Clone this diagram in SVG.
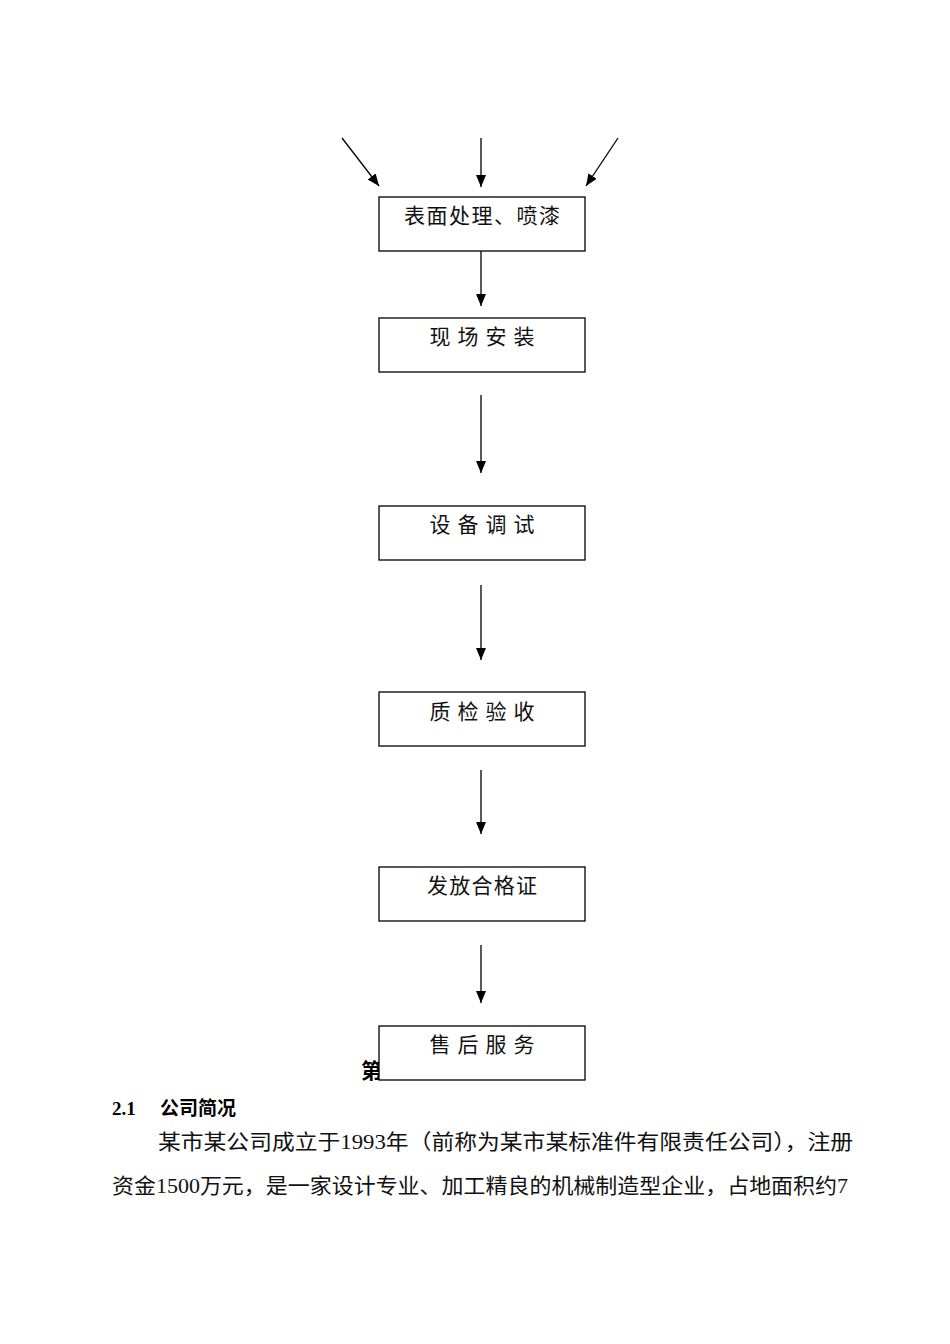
<svg xmlns="http://www.w3.org/2000/svg" width="950" height="1344" viewBox="0 0 950 1344">
<style>
.box{fill:#fff;stroke:#000;stroke-width:1.3}
.lbl{font-family:"Noto Sans CJK SC",sans-serif;font-size:21px;fill:#111;text-anchor:middle}
.ln{stroke:#000;stroke-width:1.3;fill:none}
.body{font-family:"Liberation Serif","Noto Sans CJK SC",serif;font-size:21px;fill:#111}
</style>
<defs>
<marker id="ah" viewBox="0 0 12 10" refX="12" refY="5" markerWidth="12" markerHeight="10" markerUnits="userSpaceOnUse" orient="auto">
<path d="M0,0 L12,5 L0,10 z" fill="#000"/>
</marker>
</defs>
<rect width="950" height="1344" fill="#fff"/>
<text x="361" y="1078" style="font-family:'Noto Sans CJK SC',sans-serif;font-size:21px;font-weight:bold;fill:#000">第</text>
<g id="connectors">
<line class="ln" x1="342" y1="138" x2="379" y2="186" marker-end="url(#ah)"/>
<line class="ln" x1="481" y1="138" x2="481" y2="187" marker-end="url(#ah)"/>
<line class="ln" x1="618" y1="138" x2="586" y2="186" marker-end="url(#ah)"/>
<line class="ln" x1="481" y1="251" x2="481" y2="306" marker-end="url(#ah)"/>
<line class="ln" x1="481" y1="395" x2="481" y2="473" marker-end="url(#ah)"/>
<line class="ln" x1="481" y1="585" x2="481" y2="660" marker-end="url(#ah)"/>
<line class="ln" x1="481" y1="770" x2="481" y2="834" marker-end="url(#ah)"/>
<line class="ln" x1="481" y1="945" x2="481" y2="1003" marker-end="url(#ah)"/>
</g>
<g id="n1"><rect class="box" x="379" y="197" width="206" height="54"/><text class="lbl" x="482" y="223" textLength="156">表面处理、喷漆</text></g>
<g id="n2"><rect class="box" x="379" y="318" width="206" height="54"/><text class="lbl" x="482" y="344" textLength="105">现 场 安 装</text></g>
<g id="n3"><rect class="box" x="379" y="506" width="206" height="54"/><text class="lbl" x="482" y="532" textLength="105">设 备 调 试</text></g>
<g id="n4"><rect class="box" x="379" y="692" width="206" height="54"/><text class="lbl" x="482" y="719" textLength="105">质 检 验 收</text></g>
<g id="n5"><rect class="box" x="379" y="867" width="206" height="54"/><text class="lbl" x="482" y="893" textLength="110">发放合格证</text></g>
<g id="n6"><rect class="box" x="379" y="1026" width="206" height="54"/><text class="lbl" x="482" y="1052" textLength="105">售 后 服 务</text></g>
<text x="112" y="1115" style="font-family:'Liberation Serif','Noto Sans CJK SC',serif;font-size:19px;font-weight:bold;fill:#000">2.1</text>
<text x="160" y="1115" style="font-family:'Noto Sans CJK SC',sans-serif;font-size:19px;font-weight:bold;fill:#000">公司简况</text>
<text class="body" x="158" y="1149" textLength="695" lengthAdjust="spacingAndGlyphs">某市某公司成立于1993年（前称为某市某标准件有限责任公司），注册</text>
<text class="body" x="112" y="1193" textLength="736" lengthAdjust="spacingAndGlyphs">资金1500万元，是一家设计专业、加工精良的机械制造型企业，占地面积约7</text>
</svg>
